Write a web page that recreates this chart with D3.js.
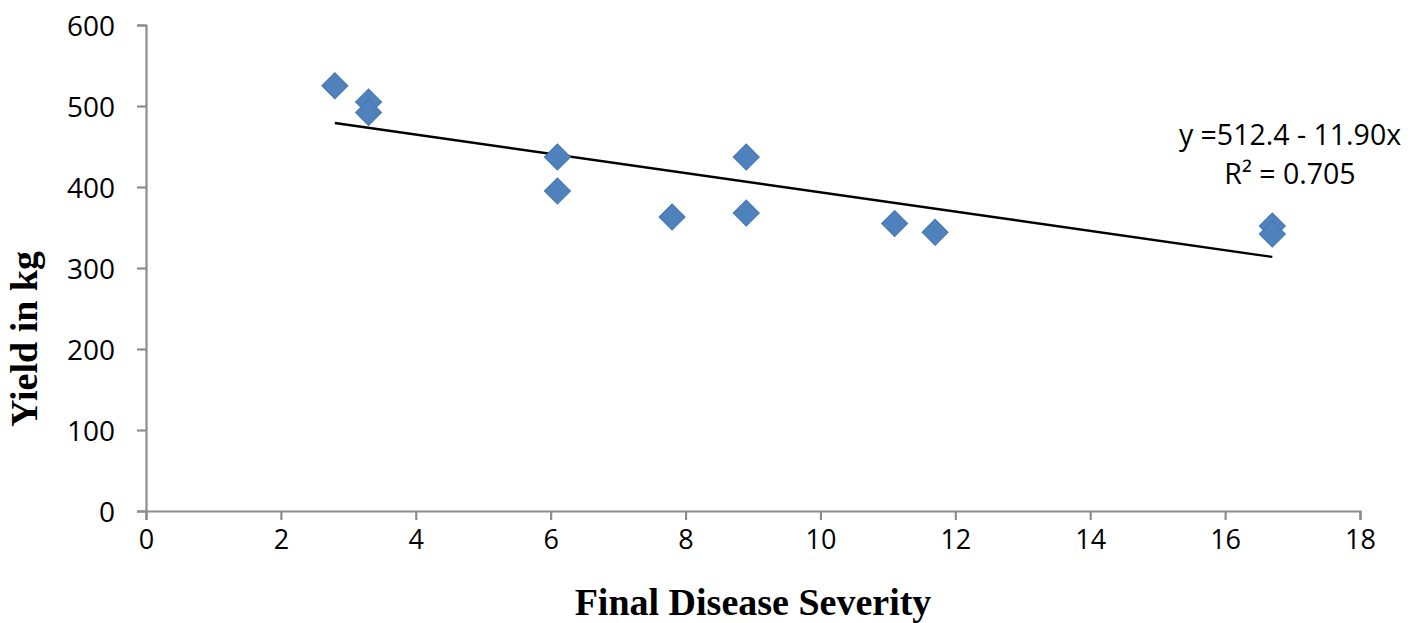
<!DOCTYPE html>
<html>
<head>
<meta charset="utf-8">
<script src="https://cdn.jsdelivr.net/npm/d3@7"></script>
<style>
  html, body { margin: 0; padding: 0; background: #fff; }
  svg { display: block; }
</style>
</head>
<body>
<svg id="chart" width="1424" height="623"></svg>
<script>
// Data
const severity = [2.8, 3.3, 3.3, 6.1, 6.1, 7.8, 8.9, 8.9, 11.1, 11.7, 16.7, 16.7];
const yieldKg  = [525, 505, 492, 437, 395, 363, 437, 368, 355, 344, 352, 342];
const xTicks = [0, 2, 4, 6, 8, 10, 12, 14, 16, 18];
const yTicks = [0, 100, 200, 300, 400, 500, 600];
const trendIntercept = 512.4;
const trendSlope = -11.90;
const equationLines = ["y =512.4 - 11.90x", "R² = 0.705"];
const xTitle = "Final Disease Severity";
const yTitle = "Yield in kg";

const svg = d3.select("#chart");
const x = d3.scaleLinear().domain([0, 18]).range([146, 1360]);
const y = d3.scaleLinear().domain([0, 600]).range([511, 25]);
const axisColor = "#8c8c8c";

// X axis
const gx = svg.append("g").attr("transform", `translate(0,${y(0)})`)
  .call(d3.axisBottom(x).tickValues(xTicks).tickFormat(d3.format("d")).tickSize(9).tickPadding(10));
// Y axis
const gy = svg.append("g").attr("transform", `translate(${x(0)},0)`)
  .call(d3.axisLeft(y).tickValues(yTicks).tickFormat(d3.format("d")).tickSize(9).tickPadding(22));

[gx, gy].forEach(g => {
  g.select(".domain").attr("stroke", axisColor).attr("stroke-width", 2.2);
  g.selectAll(".tick line").attr("stroke", axisColor).attr("stroke-width", 2.2);
  g.selectAll(".tick text").attr("fill", "#000").attr("font-family", "'Open Sans', sans-serif");
});
gx.selectAll(".tick text").attr("font-size", 27);
gy.selectAll(".tick text").attr("font-size", 28).attr("dy", "0.36em");

// Trend line
const xs = d3.extent(severity);
svg.append("line")
  .attr("x1", x(xs[0])).attr("y1", y(trendIntercept + trendSlope * xs[0]))
  .attr("x2", x(xs[1])).attr("y2", y(trendIntercept + trendSlope * xs[1]))
  .attr("stroke", "#000").attr("stroke-width", 2.4);

// Points (diamonds)
const pts = severity.map((s, i) => ({ s, v: yieldKg[i] }));
const sym = d3.symbol().type(d3.symbolSquare).size(340);
svg.append("g").selectAll("path").data(pts).join("path")
  .attr("d", sym)
  .attr("transform", d => `translate(${x(d.s)},${y(d.v)}) rotate(45)`)
  .attr("fill", "#4F81BD")
  .attr("stroke", "#4677b3")
  .attr("stroke-width", 1);

// Equation label
const eq = svg.append("text")
  .attr("font-family", "'Open Sans', sans-serif")
  .attr("font-size", 28.5)
  .attr("text-anchor", "middle")
  .attr("fill", "#000");
eq.selectAll("tspan").data(equationLines).join("tspan")
  .attr("x", 1290)
  .attr("y", (d, i) => 145 + i * 39)
  .text(d => d);

// Axis titles
svg.append("text")
  .attr("x", (x(0) + x(18)) / 2)
  .attr("y", 615)
  .attr("text-anchor", "middle")
  .attr("font-family", "'Liberation Serif', 'Times New Roman', serif")
  .attr("font-weight", "bold")
  .attr("font-size", 38)
  .text(xTitle);

svg.append("text")
  .attr("transform", `translate(37,339) rotate(-90)`)
  .attr("text-anchor", "middle")
  .attr("font-family", "'Liberation Serif', 'Times New Roman', serif")
  .attr("font-weight", "bold")
  .attr("font-size", 38)
  .text(yTitle);
</script>
</body>
</html>
